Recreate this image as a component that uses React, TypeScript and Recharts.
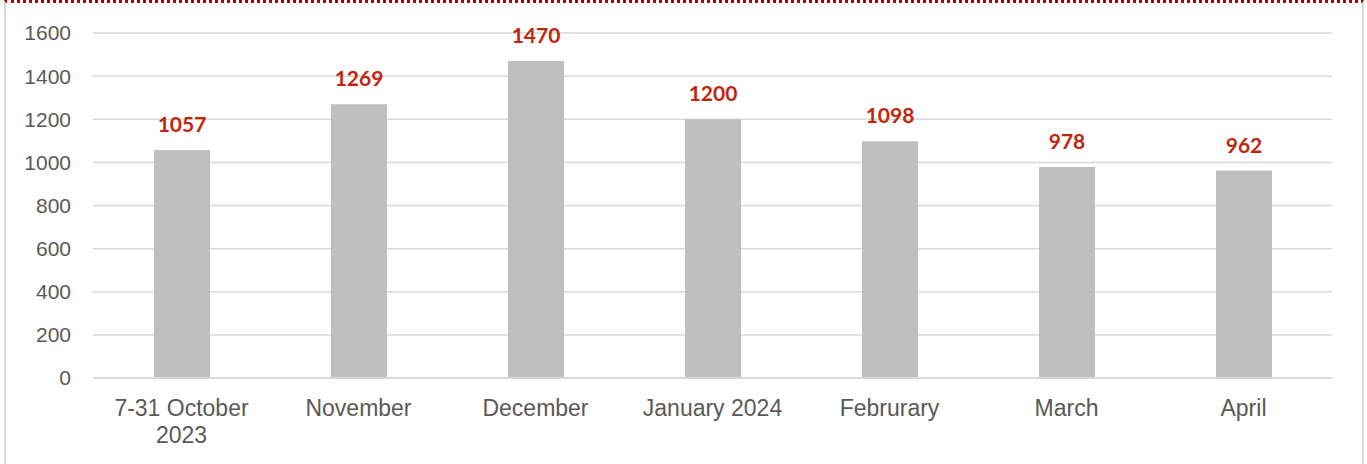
import React from "react";
import { BarChart, Bar, XAxis, YAxis, CartesianGrid, LabelList } from "recharts";

const months = [
  "7-31 October 2023",
  "November",
  "December",
  "January 2024",
  "Februrary",
  "March",
  "April",
];
const counts = [1057, 1269, 1470, 1200, 1098, 978, 962];
const yTicks = [0, 200, 400, 600, 800, 1000, 1200, 1400, 1600];

const rows = months.map((m, i) => ({ month: m, count: counts[i] }));

const AXIS_FONT = "'Liberation Sans', Arial, sans-serif";

// break long category names onto two lines, like the original
function splitLabel(s: string): string[] {
  if (s.length <= 13) return [s];
  const cut = s.lastIndexOf(" ");
  return [s.slice(0, cut), s.slice(cut + 1)];
}

function MonthTick(props: any) {
  const { x, y, payload } = props;
  const lines = splitLabel(String(payload.value));
  return (
    <text
      x={x}
      y={y + 36}
      textAnchor="middle"
      fill="#595959"
      style={{ fontSize: 23, fontFamily: AXIS_FONT }}
    >
      {lines.map((l, i) => (
        <tspan key={i} x={x} dy={i === 0 ? 0 : 27}>
          {l}
        </tspan>
      ))}
    </text>
  );
}

export default function App() {
  return (
    <div style={{ position: "absolute", left: 0, top: 0, width: 1367, height: 464, background: "#fff", overflow: "hidden" }}>
      <div
        style={{
          position: "absolute",
          left: 4,
          top: 0,
          width: 1356,
          height: 480,
          borderLeft: "2px solid #d9d9d9",
          borderRight: "2px solid #d9d9d9",
          borderTop: "3px dotted #b00000",
          boxSizing: "content-box",
        }}
      />
      <div style={{ position: "absolute", left: 0, top: 0 }}>
        <BarChart
          width={1367}
          height={464}
          data={rows}
          margin={{ top: 33, right: 35, left: 33, bottom: 0 }}
        >
          <CartesianGrid vertical={false} stroke="#d9d9d9" strokeWidth={1.5} />
          <XAxis
            dataKey="month"
            height={86}
            axisLine={{ stroke: "#d9d9d9", strokeWidth: 2 }}
            tickLine={false}
            tickSize={0}
            interval={0}
            tick={<MonthTick />}
          />
          <YAxis
            width={60}
            domain={[0, 1600]}
            ticks={yTicks}
            axisLine={false}
            tickLine={false}
            tickSize={0}
            tickMargin={22}
            tick={{ fill: "#595959", fontSize: 21, fontFamily: AXIS_FONT }}
          />
          <Bar dataKey="count" fill="#bfbfbf" barSize={56} isAnimationActive={false}>
            <LabelList
              dataKey="count"
              position="top"
              offset={18}
              fill="#c0260f"
              style={{ fontSize: 21, fontWeight: 700, fontFamily: "Lato, 'Open Sans', sans-serif" }}
            />
          </Bar>
        </BarChart>
      </div>
    </div>
  );
}
